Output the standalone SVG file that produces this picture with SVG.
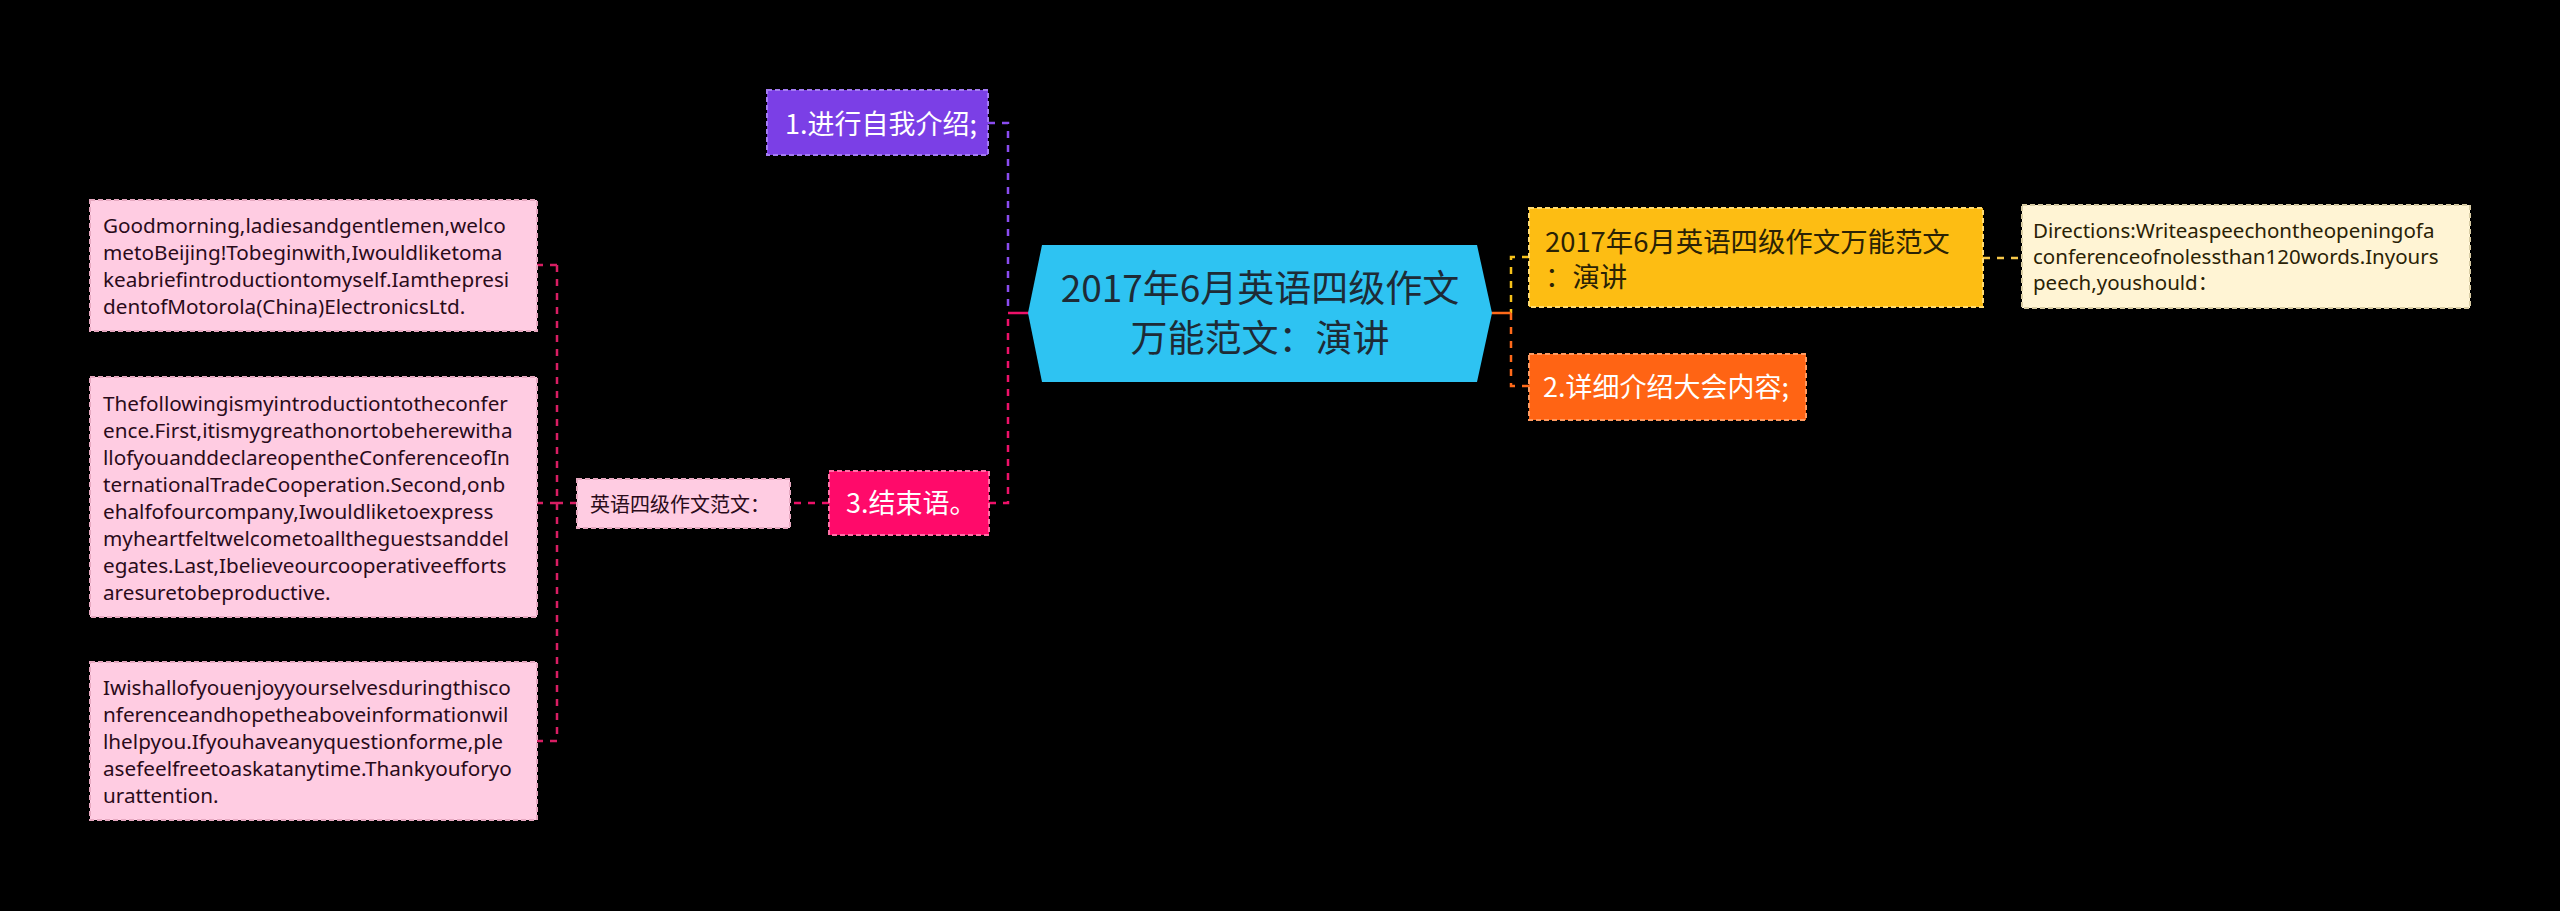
<svg xmlns="http://www.w3.org/2000/svg" width="2560" height="911" viewBox="0 0 2560 911">
<style>
text{font-family:"Noto Sans","Noto Sans CJK SC",sans-serif;}
.cn{font-family:"Noto Sans CJK SC","Noto Sans",sans-serif;}
.con{fill:none;stroke-width:2.5;stroke-dasharray:7 7;}
.sol{fill:none;stroke-width:2.5;}
.bd{stroke-width:2;stroke-dasharray:5 3;}
.para{font-size:20.7px;fill:#2a0b1a;}
</style>
<rect width="2560" height="911" fill="#000"/>
<g id="connectors">
<path class="con" stroke="#8A4CF0" d="M988,123 H1008 V313"/>
<path class="con" stroke="#EE1169" d="M989,503 H1008 V313"/>
<path class="sol" stroke="#EE1169" d="M1008,313 H1030"/>
<path class="con" stroke="#F7C21A" d="M1529,257 H1511 V313"/>
<path class="con" stroke="#FF6A1A" d="M1529,386 H1511 V313"/>
<path class="sol" stroke="#FF6A1A" d="M1490,313 H1511"/>
<path class="con" stroke="#F7C84A" stroke-width="2" d="M1983,258 H2022"/>
<path class="con" stroke="#EE1169" stroke-width="2" d="M829,503 H790"/>
<path class="con" stroke="#D81E63" stroke-width="2" stroke-dasharray="6 6" d="M577,503 H557 M557,265 V741 M557,265 H537 M557,503 H537 M557,741 H537"/>
</g>
<g id="center">
<polygon points="1042,245 1477,245 1492,313 1477,382 1042,382 1028,313" fill="#2EC3F2"/>
<text class="cn" x="1260" y="302" font-size="37" fill="#1E2B36" text-anchor="middle">2017年6月英语四级作文</text>
<text class="cn" x="1260" y="352" font-size="37" fill="#1E2B36" text-anchor="middle">万能范文：演讲</text>
</g>
<g id="n1">
<rect x="767" y="90" width="221" height="65" fill="#7B3FE6" stroke="#A47CF2" class="bd"/>
<text class="cn" x="785" y="134" font-size="27" fill="#fff">1.进行自我介绍;</text>
</g>
<g id="n3">
<rect x="829" y="471" width="160" height="64" fill="#FF0A6A" stroke="#FF70A6" class="bd"/>
<text class="cn" x="846" y="513" font-size="27" fill="#fff">3.结束语。</text>
</g>
<g id="n3label">
<rect x="577" y="479" width="213" height="49" fill="#FFCCE2" stroke="#E6A8C0" class="bd"/>
<text class="cn" x="590" y="512" font-size="20" fill="#2a0b1a">英语四级作文范文：</text>
</g>
<g id="c1">
<rect x="90" y="200" width="447" height="131" fill="#FFCCE2" stroke="#E6A8C0" class="bd"/>
<text class="para" x="103" y="233">Goodmorning,ladiesandgentlemen,welco</text>
<text class="para" x="103" y="260">metoBeijing!Tobeginwith,Iwouldliketoma</text>
<text class="para" x="103" y="287">keabriefintroductiontomyself.Iamthepresi</text>
<text class="para" x="103" y="314">dentofMotorola(China)ElectronicsLtd.</text>
</g>
<g id="c2">
<rect x="90" y="377" width="447" height="240" fill="#FFCCE2" stroke="#E6A8C0" class="bd"/>
<text class="para" x="103" y="411">Thefollowingismyintroductiontotheconfer</text>
<text class="para" x="103" y="438">ence.First,itismygreathonortobeherewitha</text>
<text class="para" x="103" y="465">llofyouanddeclareopentheConferenceofIn</text>
<text class="para" x="103" y="492">ternationalTradeCooperation.Second,onb</text>
<text class="para" x="103" y="519">ehalfofourcompany,Iwouldliketoexpress</text>
<text class="para" x="103" y="546">myheartfeltwelcometoalltheguestsanddel</text>
<text class="para" x="103" y="573">egates.Last,Ibelieveourcooperativeefforts</text>
<text class="para" x="103" y="600">aresuretobeproductive.</text>
</g>
<g id="c3">
<rect x="90" y="662" width="447" height="158" fill="#FFCCE2" stroke="#E6A8C0" class="bd"/>
<text class="para" x="103" y="695">Iwishallofyouenjoyyourselvesduringthisco</text>
<text class="para" x="103" y="722">nferenceandhopetheaboveinformationwil</text>
<text class="para" x="103" y="749">lhelpyou.Ifyouhaveanyquestionforme,ple</text>
<text class="para" x="103" y="776">asefeelfreetoaskatanytime.Thankyouforyo</text>
<text class="para" x="103" y="803">urattention.</text>
</g>
<g id="n2top">
<rect x="1529" y="208" width="454" height="99" fill="#FDBD13" stroke="#FFDB70" class="bd"/>
<text class="cn" x="1545" y="252" font-size="27.4" fill="#2a2205">2017年6月英语四级作文万能范文</text>
<text class="cn" x="1545" y="287" font-size="27.4" fill="#2a2205">：演讲</text>
</g>
<g id="directions">
<rect x="2022" y="205" width="448" height="103" fill="#FFF4D4" stroke="#D8CCA4" class="bd"/>
<text x="2033" y="238" font-size="20.5" fill="#2a2205">Directions:Writeaspeechontheopeningofa</text>
<text x="2033" y="264" font-size="20.5" fill="#2a2205">conferenceofnolessthan120words.Inyours</text>
<text x="2033" y="290" font-size="20.5" fill="#2a2205">peech,youshould：</text>
</g>
<g id="n2">
<rect x="1529" y="354" width="277" height="66" fill="#FF6414" stroke="#FF9A60" class="bd"/>
<text class="cn" x="1543" y="397" font-size="27" fill="#fff">2.详细介绍大会内容;</text>
</g>
</svg>
